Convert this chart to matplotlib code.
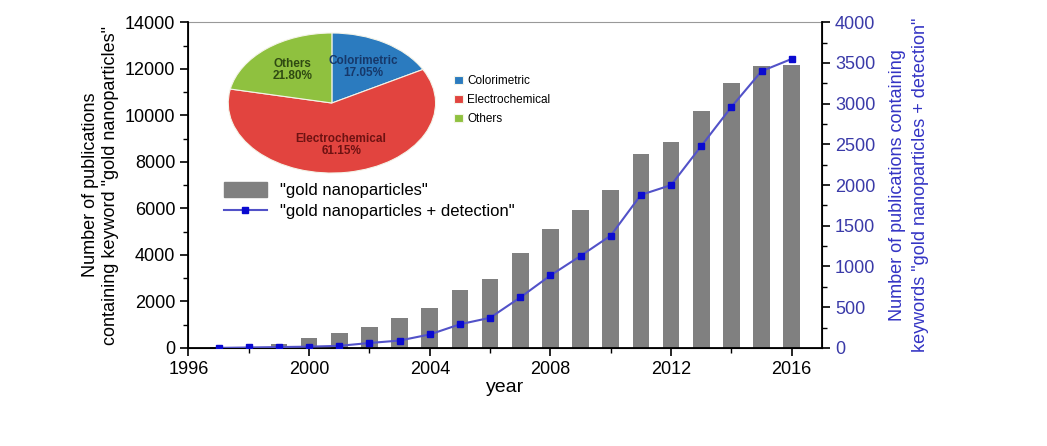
"""Gold nanoparticle publication counts per year, with a pie inset of detection methods."""

import matplotlib.pyplot as plt
from matplotlib.lines import Line2D
from matplotlib.patches import Patch

# publications per year
years = [1997, 1998, 1999, 2000, 2001, 2002, 2003, 2004, 2005, 2006,
         2007, 2008, 2009, 2010, 2011, 2012, 2013, 2014, 2015, 2016]
gold_np = [20, 50, 150, 420, 620, 880, 1270, 1700, 2500, 2970,
           4100, 5100, 5950, 6800, 8350, 8870, 10200, 11400, 12100, 12150]
gold_np_detection = [0, 5, 10, 15, 25, 60, 90, 165, 290, 370,
                     620, 890, 1130, 1380, 1880, 2000, 2480, 2960, 3400, 3550]

# pie inset
methods = ["Colorimetric", "Electrochemical", "Others"]
shares = [17.05, 61.15, 21.80]
pie_colors = ["#2b7bbf", "#e2443f", "#8fc13f"]
pie_text_colors = ["#16386a", "#6e1212", "#2f4a12"]

x_ticks = [1996, 2000, 2004, 2008, 2012, 2016]

plt.rcParams["font.family"] = ["Liberation Sans", "DejaVu Sans"]

fig = plt.figure(figsize=(10.47, 4.46), dpi=100)
ax = fig.add_axes([0.18, 0.22, 0.605, 0.73])

ax.bar(years, gold_np, width=0.55, color="#808080", zorder=2)
ax.set_xlim(1996, 2017)
ax.set_ylim(0, 14000)
ax.set_xticks(x_ticks)
ax.set_xticks(range(1998, 2017, 2), minor=True)
ax.set_yticks(range(0, 14001, 2000))
ax.set_yticks(range(1000, 14000, 2000), minor=True)
ax.tick_params(axis="both", which="major", labelsize=13, length=6, width=1.2)
ax.tick_params(axis="both", which="minor", length=3.5, width=1.0)
ax.set_xlabel("year", fontsize=14, labelpad=1)
ax.set_ylabel('Number of publications\ncontaining keyword "gold nanoparticles"',
              fontsize=13, linespacing=1.25)
for side in ["left", "bottom"]:
    ax.spines[side].set_linewidth(1.3)
ax.spines["top"].set_color("#999999")
ax.spines["top"].set_linewidth(0.8)

ax2 = ax.twinx()
ax2.plot(years, gold_np_detection, color="#5252c8", linewidth=1.5,
         marker="s", markersize=5, markerfacecolor="#0a0ad0",
         markeredgecolor="#0a0ad0", zorder=3)
ax2.set_ylim(0, 4000)
ax2.set_yticks(range(0, 4001, 500))
ax2.set_yticks(range(250, 4000, 500), minor=True)
ax2.tick_params(axis="y", which="major", labelsize=13, length=6, width=1.2,
                labelcolor="#3a3aa8")
ax2.tick_params(axis="y", which="minor", length=3.5, width=1.0)
ax2.spines["right"].set_linewidth(1.3)
ax2.spines["top"].set_visible(False)
ax2.set_ylabel('Number of publications containing\nkeywords "gold nanoparticles + detection"',
               fontsize=13, color="#3434c4", linespacing=1.45, labelpad=10)

handles = [
    Patch(facecolor="#808080", edgecolor="#808080"),
    Line2D([], [], color="#5252c8", linewidth=1.5, marker="s", markersize=5,
           markerfacecolor="#0a0ad0", markeredgecolor="#0a0ad0"),
]
ax.legend(handles, ['"gold nanoparticles"', '"gold nanoparticles + detection"'],
          loc="upper left", bbox_to_anchor=(0.045, 0.53), frameon=False,
          fontsize=12, handlelength=2.6, handleheight=1.0, labelspacing=0.3,
          borderaxespad=0)

# pie inset
pax = fig.add_axes([0.218, 0.612, 0.198, 0.314])
wedges, _, autotexts = pax.pie(
    shares, colors=pie_colors, startangle=90, counterclock=False,
    autopct="%1.2f%%", pctdistance=0.6,
    wedgeprops=dict(edgecolor="#f4f4e8", linewidth=0.8),
    textprops=dict(fontsize=8.5, fontweight="bold"))
for t, name, share, c in zip(autotexts, methods, shares, pie_text_colors):
    t.set_text(f"{name}\n{share:.2f}%")
    t.set_color(c)
    t.set_linespacing(1.0)
pax.set_aspect("auto")
pax.set_xlim(-1.0, 1.0)
pax.set_ylim(-1.0, 1.0)
pax.legend(wedges, methods, loc="center left", bbox_to_anchor=(1.04, 0.52),
           frameon=False, fontsize=8.5, handlelength=0.7, handleheight=0.7,
           handletextpad=0.4, labelspacing=0.6)

fig.savefig("out.png", dpi=100)
